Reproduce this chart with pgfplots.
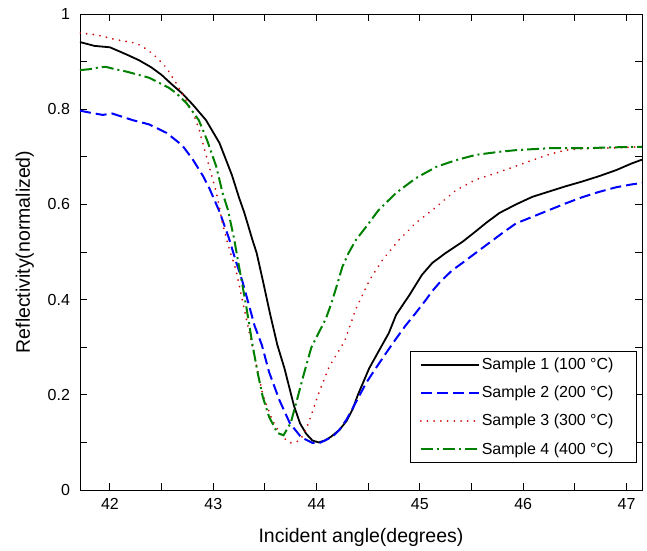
\documentclass[border=0pt]{standalone}
\usepackage{fontspec}
\setmainfont{Liberation Sans}
\usepackage{pgfplots}
\pgfplotsset{compat=1.18}

\definecolor{sblue}{rgb}{0,0,1}
\definecolor{sred}{rgb}{0.8,0.05,0.05}
\definecolor{sgreen}{rgb}{0,0.5,0}

\begin{document}
\begin{tikzpicture}
\begin{axis}[
scale only axis, width=562pt, height=476pt,
xmin=41.71, xmax=47.15, ymin=0, ymax=1,
xtick={42,42.5,43,43.5,44,44.5,45,45.5,46,46.5,47},
xticklabels={42,,43,,44,,45,,46,,47},
ytick={0,0.1,0.2,0.3,0.4,0.5,0.6,0.7,0.8,0.9,1},
yticklabels={0,,0.2,,0.4,,0.6,,0.8,,1},
/pgf/number format/assume math mode=true,
tick label style={font=\fontsize{16}{18}\selectfont},
xticklabel style={yshift=-5pt},
yticklabel style={xshift=-6.5pt},
major tick length=7pt,
every tick/.style={black, line width=0.9pt},
axis line style={line width=0.9pt},
xlabel={Incident angle(degrees)},
ylabel={Reflectivity(normalized)},
label style={font=\fontsize{19.5}{22}\selectfont},
xlabel style={at={(axis description cs:0.5,-0.1113)}, anchor=base},
ylabel style={at={(axis description cs:-0.089,0.5)}, anchor=base},
legend style={at={(axis description cs:0.9911,0.0567)}, anchor=south east,
  font=\fontsize{16}{18}\selectfont, inner xsep=9pt, inner ysep=5pt,
  row sep=11pt, draw=black, line width=0.9pt},
legend cell align=left,
legend image code/.code={\draw[#1] (0pt,0pt) -- (58pt,0pt);},
]
% Sample 1 (100 C)
\addplot[black, line width=1.8pt, line join=round] coordinates {
(41.71,0.941) (41.85,0.933) (42.00,0.930) (42.16,0.915) (42.28,0.903)
(42.40,0.888) (42.50,0.872) (42.60,0.852) (42.70,0.833) (42.80,0.810)
(42.93,0.777) (43.06,0.729) (43.18,0.662) (43.25,0.614) (43.30,0.583)
(43.38,0.525) (43.42,0.498) (43.48,0.440) (43.55,0.370) (43.62,0.305)
(43.69,0.255) (43.78,0.178) (43.84,0.140) (43.90,0.118) (43.96,0.104)
(44.02,0.100) (44.08,0.104) (44.14,0.112) (44.22,0.126) (44.29,0.145)
(44.35,0.170) (44.40,0.200) (44.51,0.256) (44.61,0.295) (44.70,0.330)
(44.77,0.368) (44.90,0.410) (45.02,0.452) (45.12,0.477) (45.25,0.498)
(45.41,0.521) (45.55,0.545) (45.64,0.561) (45.77,0.582) (45.93,0.600)
(46.09,0.616) (46.25,0.627) (46.41,0.638) (46.57,0.648) (46.73,0.659)
(46.90,0.672) (47.05,0.686) (47.15,0.694)};
\addlegendentry{Sample 1 (100 °C)\hspace*{12pt}}
% Sample 2 (200 C)
\addplot[sblue, line width=2pt, dash pattern=on 11pt off 5pt] coordinates {
(41.71,0.797) (41.80,0.793) (41.93,0.788) (42.02,0.791) (42.12,0.784)
(42.22,0.777) (42.38,0.768) (42.55,0.750) (42.70,0.724) (42.80,0.695)
(42.90,0.660) (42.96,0.635) (43.06,0.585) (43.15,0.530) (43.22,0.480)
(43.28,0.440) (43.35,0.385) (43.40,0.345) (43.47,0.305) (43.54,0.248)
(43.64,0.189) (43.74,0.141) (43.85,0.111) (43.96,0.099) (44.03,0.099)
(44.09,0.105) (44.16,0.113) (44.22,0.126) (44.29,0.148) (44.35,0.172)
(44.48,0.225) (44.58,0.258) (44.68,0.290) (44.77,0.318) (44.86,0.345)
(44.96,0.372) (45.06,0.400) (45.12,0.418) (45.20,0.438) (45.31,0.461)
(45.43,0.480) (45.54,0.498) (45.67,0.519) (45.80,0.540) (45.93,0.560)
(46.09,0.574) (46.25,0.588) (46.41,0.602) (46.57,0.615) (46.73,0.626)
(46.90,0.636) (47.05,0.642) (47.15,0.645)};
\addlegendentry{Sample 2 (200 °C)\hspace*{12pt}}
% Sample 3 (300 C)
\addplot[sred, line width=2pt, line cap=round, dash pattern=on 0.01pt off 6.7pt] coordinates {
(41.71,0.960) (41.80,0.958) (41.87,0.956) (41.95,0.952) (42.06,0.946)
(42.22,0.940) (42.30,0.934) (42.38,0.922) (42.47,0.905) (42.55,0.886)
(42.64,0.855) (42.72,0.825) (42.80,0.795) (42.86,0.760) (42.96,0.680)
(43.03,0.625) (43.09,0.560) (43.15,0.510) (43.22,0.462) (43.28,0.400)
(43.33,0.350) (43.37,0.310) (43.42,0.260) (43.48,0.200) (43.57,0.147)
(43.67,0.111) (43.75,0.099) (43.83,0.103) (43.88,0.118) (43.93,0.145)
(44.02,0.203) (44.12,0.258) (44.20,0.287) (44.27,0.312) (44.38,0.380)
(44.51,0.440) (44.64,0.484) (44.80,0.526) (44.96,0.561) (45.16,0.595)
(45.35,0.630) (45.54,0.652) (45.77,0.668) (46.09,0.693) (46.25,0.705)
(46.41,0.714) (46.57,0.717) (46.73,0.718) (46.90,0.719) (47.15,0.721)};
\addlegendentry{Sample 3 (300 °C)\hspace*{12pt}}
% Sample 4 (400 C)
\addplot[sgreen, line width=2pt, dash pattern=on 12pt off 4pt on 2pt off 4pt] coordinates {
(41.71,0.882) (41.80,0.884) (41.90,0.888) (41.96,0.889) (42.05,0.884)
(42.16,0.879) (42.28,0.872) (42.38,0.866) (42.48,0.855) (42.57,0.845)
(42.64,0.834) (42.74,0.813) (42.80,0.795) (42.86,0.777) (42.94,0.735)
(43.03,0.679) (43.09,0.624) (43.14,0.590) (43.20,0.530) (43.25,0.469)
(43.32,0.385) (43.38,0.305) (43.43,0.246) (43.48,0.195) (43.54,0.154)
(43.62,0.120) (43.68,0.115) (43.75,0.141) (43.81,0.189) (43.88,0.246)
(43.95,0.300) (44.02,0.330) (44.09,0.360) (44.14,0.390) (44.19,0.425)
(44.25,0.469) (44.31,0.498) (44.38,0.525) (44.48,0.553) (44.60,0.588)
(44.77,0.624) (44.96,0.655) (45.16,0.679) (45.35,0.693) (45.54,0.704)
(45.75,0.710) (45.93,0.714) (46.25,0.718) (46.57,0.718) (46.90,0.720)
(47.15,0.721)};
\addlegendentry{Sample 4 (400 °C)\hspace*{12pt}}
\coordinate (bbA) at (axis description cs:-0.1423,-0.1261);
\coordinate (bbB) at (axis description cs:1.0089,1.0294);
\end{axis}
\pgfresetboundingbox
\path[use as bounding box] (bbA) rectangle (bbB);
\end{tikzpicture}
\end{document}
